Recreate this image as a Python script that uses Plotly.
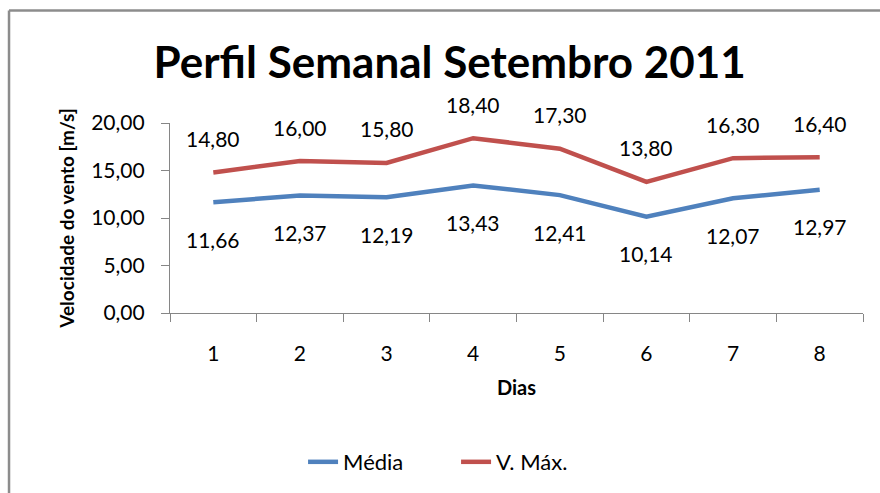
import plotly.graph_objects as go

dias = ["1", "2", "3", "4", "5", "6", "7", "8"]
media = [11.66, 12.37, 12.19, 13.43, 12.41, 10.14, 12.07, 12.97]
vmax = [14.80, 16.00, 15.80, 18.40, 17.30, 13.80, 16.30, 16.40]
y_ticks = [0, 5, 10, 15, 20]

BLUE = "#4F81BD"
RED = "#C0504D"
AXIS = "#868686"
FONT = "Lato"


def fmt(v):
    return f"{v:.2f}".replace(".", ",")


fig = go.Figure()
fig.add_trace(go.Scatter(x=dias, y=media, mode="lines", name="Média",
                         line=dict(color=BLUE, width=4.5)))
fig.add_trace(go.Scatter(x=dias, y=vmax, mode="lines", name="V. Máx.",
                         line=dict(color=RED, width=4.5)))

annotations = []
for i, v in enumerate(vmax):
    annotations.append(dict(x=i, y=v, xref="x", yref="y", text=fmt(v), showarrow=False,
                            yshift=34, font=dict(family=FONT, size=21, color="black")))
for i, v in enumerate(media):
    annotations.append(dict(x=i, y=v, xref="x", yref="y", text=fmt(v), showarrow=False,
                            yshift=-37, font=dict(family=FONT, size=21, color="black")))

border = dict(color="#8C8C8C", width=2.5)
fig.update_layout(
    width=880, height=493,
    margin=dict(l=170, r=17, t=123, b=179),
    paper_bgcolor="white", plot_bgcolor="white",
    separators=",.",
    font=dict(family=FONT, size=21, color="black"),
    title=dict(text="<b>Perfil Semanal Setembro 2011</b>", x=0.511, xanchor="center",
               y=0.874, yanchor="middle", font=dict(family=FONT, size=44, color="black")),
    showlegend=True,
    legend=dict(orientation="h", x=0.192, xanchor="left", y=-0.775, yanchor="middle",
                font=dict(family=FONT, size=22), entrywidth=108, entrywidthmode="pixels",
                tracegroupgap=0),
    annotations=annotations,
    shapes=[
        dict(type="line", xref="paper", yref="paper", x0=-0.2323, x1=-0.2323,
             y0=-1.0, y1=1.5916, line=border, layer="below"),
        dict(type="line", xref="paper", yref="paper", x0=-0.2323, x1=1.05,
             y0=1.5916, y1=1.5916, line=border, layer="below"),
    ],
)

fig.update_xaxes(type="category", range=[-0.5, 7.5], tickson="boundaries",
                 ticks="outside", ticklen=8, tickcolor=AXIS,
                 showline=True, linecolor=AXIS, linewidth=1.2, showgrid=False,
                 zeroline=False, tickfont=dict(family=FONT, size=21),
                 ticklabelstandoff=22, automargin=False,
                 title=dict(text="<b>Dias</b>", font=dict(family=FONT, size=20), standoff=16))
fig.update_yaxes(range=[0, 20], tickvals=y_ticks, tickformat=".2f",
                 ticks="outside", ticklen=8, tickcolor=AXIS,
                 showline=True, linecolor=AXIS, linewidth=1.2, showgrid=False,
                 zeroline=False, tickfont=dict(family=FONT, size=21),
                 ticklabelstandoff=12, automargin=False,
                 title=dict(text="<b>Velocidade do vento [m/s]</b>",
                            font=dict(family=FONT, size=19), standoff=11))

fig.write_html(
    "out.html",
    config={"displayModeBar": False},
    post_script="document.body.style.margin='0';document.body.style.overflow='hidden';",
)
